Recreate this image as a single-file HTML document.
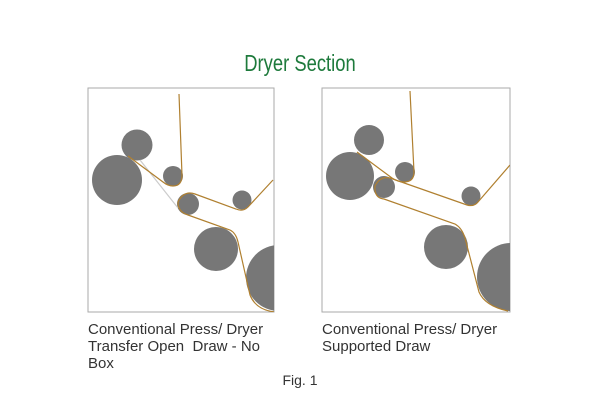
<!DOCTYPE html>
<html><head><style>
body{margin:0;width:600px;height:400px;background:#fff;overflow:hidden;font-family:"Liberation Sans",sans-serif}
.t{position:absolute;color:#333;font-size:15px;line-height:17px}
</style></head><body>
<div style="position:absolute;left:0;width:600px;top:50px;text-align:center;color:#1e7a3c;font-size:23px;transform:scaleX(0.8);">Dryer Section</div>
<svg width="600" height="400" style="position:absolute;left:0;top:0">
<defs>
<clipPath id="c1"><rect x="88" y="88" width="186" height="224"/></clipPath>
<clipPath id="c2"><rect x="322" y="88" width="188" height="224"/></clipPath>
</defs>
<rect x="88" y="88" width="186" height="224" fill="none" stroke="#aaa" stroke-width="1"/>
<rect x="322" y="88" width="188" height="224" fill="none" stroke="#aaa" stroke-width="1"/>
<g clip-path="url(#c1)" fill="#777">
<circle cx="117" cy="180" r="25"/><circle cx="137" cy="145" r="15.5"/>
<circle cx="173" cy="176" r="10"/><circle cx="188" cy="204" r="11"/>
<circle cx="242" cy="200" r="9.5"/><circle cx="216" cy="249" r="22"/>
<circle cx="279" cy="278" r="33"/>
</g>
<g clip-path="url(#c1)" fill="none" stroke="#b08030" stroke-width="1.2">
<line x1="140" y1="160" x2="178" y2="208" stroke="#ccc"/>
<path d="M179 94 L182 175 Q182 186 173 186 Q168 186 163 182 L128 156"/>
<path d="M273 180 L248 207 Q243 212 236 209 L195 194 Q184 190 178 202 Q178 212 188 215 L230 230 Q236 233 238 242 L250 295 Q256 310 275 312"/>
</g>
<g clip-path="url(#c2)" fill="#777">
<circle cx="350" cy="176" r="24"/><circle cx="369" cy="140" r="15"/>
<circle cx="405" cy="172" r="10"/><circle cx="384" cy="187" r="11"/>
<circle cx="471" cy="196" r="9.5"/><circle cx="446" cy="247" r="22"/>
<circle cx="511" cy="277" r="34"/>
</g>
<g clip-path="url(#c2)" fill="none" stroke="#b08030" stroke-width="1.2">
<path d="M410 91 L414 172 Q414 182 404 182 Q398 182 392 178 L357 152"/>
<path d="M510 165 L478 202 Q474 207 467 205 L390 178 Q380 176 375 186 Q374 198 384 199 L455 224 Q462 228 465 238 L479 292 Q485 306 508 311"/>
</g>
</svg>
<div class="t" style="left:88px;top:321px">Conventional Press/ Dryer<br>Transfer Open&nbsp; Draw - No<br>Box</div>
<div class="t" style="left:322px;top:321px">Conventional Press/ Dryer<br>Supported Draw</div>
<div class="t" style="left:0;width:600px;text-align:center;top:372px;font-size:14px">Fig. 1</div>
</body></html>
